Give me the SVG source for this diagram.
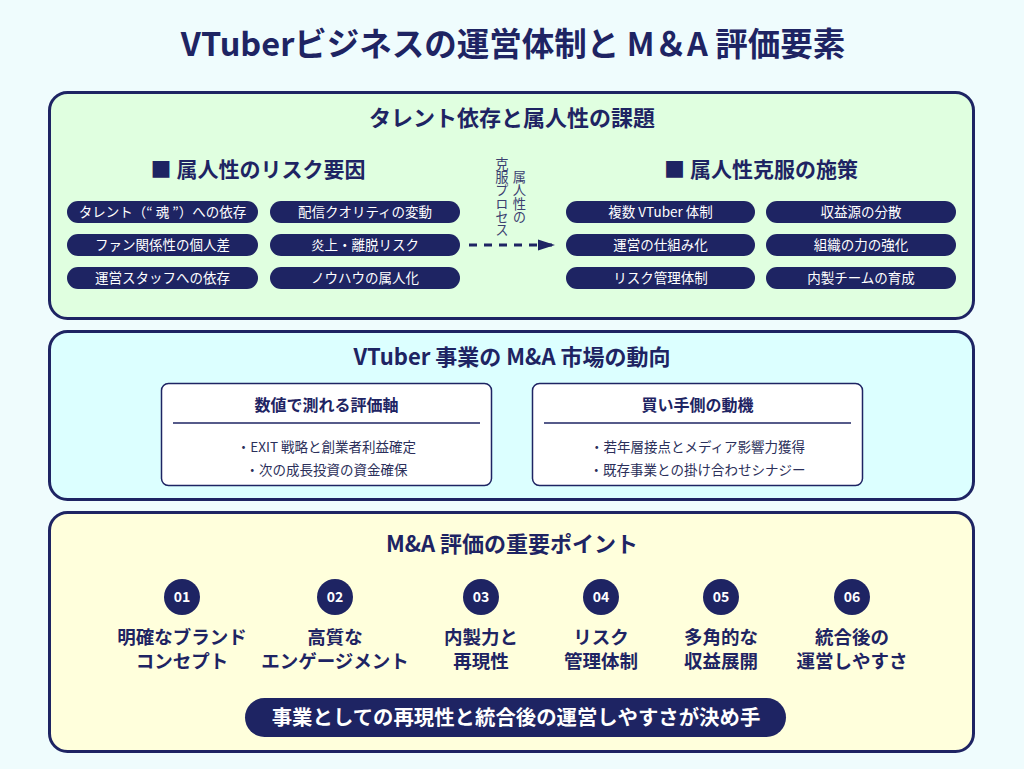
<svg xmlns="http://www.w3.org/2000/svg" width="1024" height="769" viewBox="0 0 1024 769">
<style>
text{font-family:"Noto Sans CJK JP","Noto Sans",sans-serif;}
.title{font-size:32.5px;font-weight:700;fill:#1e2463;text-anchor:middle;}
.ph{font-size:22px;font-weight:700;fill:#1e2463;text-anchor:middle;}
.sh{font-size:21px;font-weight:700;fill:#1e2463;text-anchor:middle;}
.panel{stroke:#1e2463;stroke-width:3;}
.pill{fill:#1e2463;}
.pt{font-size:13.5px;fill:#ffffff;text-anchor:middle;}
.vt{font-size:13.3px;fill:#3b4070;text-anchor:middle;writing-mode:vertical-rl;}
.box{fill:#ffffff;stroke:#1e2463;stroke-width:1.5;}
.bh{font-size:16px;font-weight:700;fill:#1e2463;text-anchor:middle;}
.bl{font-size:13.5px;fill:#2b2f5a;text-anchor:middle;}
.num{font-size:14px;font-weight:700;fill:#ffffff;text-anchor:middle;}
.lab{font-size:18.5px;font-weight:700;fill:#1e2463;text-anchor:middle;}
.bt{font-size:20.4px;font-weight:700;fill:#ffffff;text-anchor:middle;}
</style>
<defs>
<marker id="ah" markerWidth="17" markerHeight="12" refX="17" refY="6" orient="auto" markerUnits="userSpaceOnUse">
<path d="M0,0.5 L17,6 L0,11.5 Z" fill="#1e2463"/>
</marker>
</defs>
<rect x="0" y="0" width="1024" height="769" fill="#effcfd"/>
<text class="title" x="513" y="56">VTuberビジネスの運営体制と M＆A 評価要素</text>

<g id="panel-talent">
<rect class="panel" x="49.5" y="92.5" width="924" height="226" rx="18" fill="#e0ffe0"/>
<text class="ph" x="512" y="126">タレント依存と属人性の課題</text>
</g>

<g id="risk-factors">
<text class="sh" x="258" y="177">■ 属人性のリスク要因</text>
<g id="risk-1"><rect class="pill" x="67" y="201" width="191" height="22" rx="11"/><text class="pt" x="162.5" y="217">タレント（“ 魂 ”）への依存</text></g>
<g id="risk-2"><rect class="pill" x="270" y="201" width="190" height="22" rx="11"/><text class="pt" x="365" y="217">配信クオリティの変動</text></g>
<g id="risk-3"><rect class="pill" x="67" y="234" width="191" height="22" rx="11"/><text class="pt" x="162.5" y="250">ファン関係性の個人差</text></g>
<g id="risk-4"><rect class="pill" x="270" y="234" width="190" height="22" rx="11"/><text class="pt" x="365" y="250">炎上・離脱リスク</text></g>
<g id="risk-5"><rect class="pill" x="67" y="267" width="191" height="22" rx="11"/><text class="pt" x="162.5" y="283">運営スタッフへの依存</text></g>
<g id="risk-6"><rect class="pill" x="270" y="267" width="190" height="22" rx="11"/><text class="pt" x="365" y="283">ノウハウの属人化</text></g>
</g>

<g id="measures">
<text class="sh" x="761" y="177">■ 属人性克服の施策</text>
<g id="measure-1"><rect class="pill" x="566" y="201" width="189" height="22" rx="11"/><text class="pt" x="660.5" y="217">複数 VTuber 体制</text></g>
<g id="measure-2"><rect class="pill" x="766" y="201" width="190" height="22" rx="11"/><text class="pt" x="861" y="217">収益源の分散</text></g>
<g id="measure-3"><rect class="pill" x="566" y="234" width="189" height="22" rx="11"/><text class="pt" x="660.5" y="250">運営の仕組み化</text></g>
<g id="measure-4"><rect class="pill" x="766" y="234" width="190" height="22" rx="11"/><text class="pt" x="861" y="250">組織の力の強化</text></g>
<g id="measure-5"><rect class="pill" x="566" y="267" width="189" height="22" rx="11"/><text class="pt" x="660.5" y="283">リスク管理体制</text></g>
<g id="measure-6"><rect class="pill" x="766" y="267" width="190" height="22" rx="11"/><text class="pt" x="861" y="283">内製チームの育成</text></g>
</g>

<g id="connectors">
<line x1="469" y1="245" x2="555" y2="245" stroke="#1e2463" stroke-width="3" stroke-dasharray="8 7" marker-end="url(#ah)"/>
<text class="vt" x="519.5" y="197">属人性の</text>
<text class="vt" x="502" y="197">克服プロセス</text>
</g>

<g id="panel-market">
<rect class="panel" x="49.5" y="331.5" width="924" height="168" rx="18" fill="#dcffff"/>
<text class="ph" x="512" y="365">VTuber 事業の M&amp;A 市場の動向</text>
</g>
<g id="box-metrics">
<rect class="box" x="161.5" y="383.5" width="330" height="102" rx="7"/>
<text class="bh" x="326.5" y="411">数値で測れる評価軸</text>
<line x1="173" y1="423" x2="480" y2="423" stroke="#1e2463" stroke-width="1.5"/>
<text class="bl" x="326.5" y="452">・EXIT 戦略と創業者利益確定</text>
<text class="bl" x="326.5" y="475">・次の成長投資の資金確保</text>
</g>
<g id="box-buyers">
<rect class="box" x="532.5" y="383.5" width="330" height="102" rx="7"/>
<text class="bh" x="697.5" y="411">買い手側の動機</text>
<line x1="544" y1="423" x2="851" y2="423" stroke="#1e2463" stroke-width="1.5"/>
<text class="bl" x="697.5" y="452">・若年層接点とメディア影響力獲得</text>
<text class="bl" x="697.5" y="475">・既存事業との掛け合わせシナジー</text>
</g>

<g id="panel-points">
<rect class="panel" x="49.5" y="512.5" width="924" height="239" rx="18" fill="#ffffdc"/>
<text class="ph" x="512" y="552">M&amp;A 評価の重要ポイント</text>
</g>
<g id="point-01"><circle cx="182" cy="597" r="18" fill="#1e2463"/><text class="num" x="182" y="602">01</text><text class="lab" x="182" y="644">明確なブランド</text><text class="lab" x="182" y="668">コンセプト</text></g>
<g id="point-02"><circle cx="335" cy="597" r="18" fill="#1e2463"/><text class="num" x="335" y="602">02</text><text class="lab" x="335" y="644">高質な</text><text class="lab" x="335" y="668">エンゲージメント</text></g>
<g id="point-03"><circle cx="481" cy="597" r="18" fill="#1e2463"/><text class="num" x="481" y="602">03</text><text class="lab" x="481" y="644">内製力と</text><text class="lab" x="481" y="668">再現性</text></g>
<g id="point-04"><circle cx="601" cy="597" r="18" fill="#1e2463"/><text class="num" x="601" y="602">04</text><text class="lab" x="601" y="644">リスク</text><text class="lab" x="601" y="668">管理体制</text></g>
<g id="point-05"><circle cx="721" cy="597" r="18" fill="#1e2463"/><text class="num" x="721" y="602">05</text><text class="lab" x="721" y="644">多角的な</text><text class="lab" x="721" y="668">収益展開</text></g>
<g id="point-06"><circle cx="852" cy="597" r="18" fill="#1e2463"/><text class="num" x="852" y="602">06</text><text class="lab" x="852" y="644">統合後の</text><text class="lab" x="852" y="668">運営しやすさ</text></g>
<g id="conclusion">
<rect class="pill" x="245" y="698" width="541" height="39" rx="19.5"/>
<text class="bt" x="516" y="725">事業としての再現性と統合後の運営しやすさが決め手</text>
</g>
</svg>
